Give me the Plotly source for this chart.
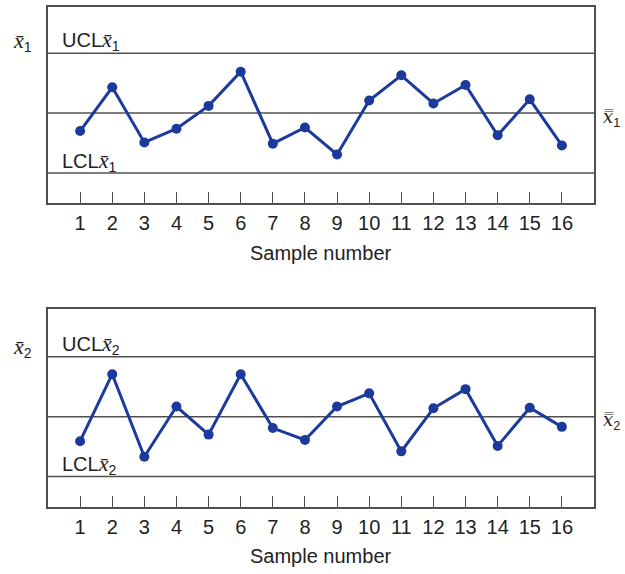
import plotly.graph_objects as go

samples = list(range(1, 17))
xbar1 = [-0.30, 0.43, -0.49, -0.26, 0.12, 0.69, -0.51, -0.24, -0.69, 0.21, 0.63, 0.16, 0.47, -0.37, 0.23, -0.54]
xbar2 = [-0.41, 0.71, -0.67, 0.17, -0.30, 0.71, -0.19, -0.39, 0.17, 0.39, -0.58, 0.14, 0.46, -0.49, 0.15, -0.17]
limits1 = {"UCL": 1.0, "CL": 0.0, "LCL": -1.0}
limits2 = {"UCL": 1.0, "CL": 0.0, "LCL": -1.0}
yrange1 = [-1.5, 1.77]
yrange2 = [-1.51, 1.80]
tick_labels = [str(s) for s in samples]

W, H = 625, 574
def px(v, total):
    return v / total

BLUE = "#1c3a9c"
GRAY = "#505050"
SANS = "Liberation Sans, Arial, sans-serif"
SERIF = "Liberation Serif, Times New Roman, serif"
SERIF2 = "DejaVu Serif, serif"
FS = 20

fig = go.Figure()
fig.add_trace(go.Scatter(x=samples, y=xbar1, mode="lines+markers",
                         line=dict(color=BLUE, width=3), marker=dict(color=BLUE, size=10),
                         xaxis="x", yaxis="y", showlegend=False))
fig.add_trace(go.Scatter(x=samples, y=xbar2, mode="lines+markers",
                         line=dict(color=BLUE, width=3), marker=dict(color=BLUE, size=10),
                         xaxis="x2", yaxis="y2", showlegend=False))

axis_common = dict(showline=True, linecolor=GRAY, linewidth=1.5, mirror=True,
                   showgrid=False, zeroline=False)
xdom = [px(48, W), px(594, W)]
xaxis_common = dict(range=[0, 17], tickvals=samples, ticktext=tick_labels,
                    ticks="inside", ticklen=11, tickwidth=1.2, tickcolor=GRAY,
                    ticklabelstandoff=1,
                    tickfont=dict(family=SANS, size=FS, color="#222"))
fig.update_layout(
    width=W, height=H, margin=dict(l=0, r=0, t=0, b=0),
    paper_bgcolor="white", plot_bgcolor="white",
    xaxis=dict(domain=xdom, anchor="y", **xaxis_common, **axis_common),
    yaxis=dict(domain=[1 - px(203, H), 1 - px(7, H)], range=yrange1, showticklabels=False,
               ticks="", anchor="x", **axis_common),
    xaxis2=dict(domain=xdom, anchor="y2", **xaxis_common, **axis_common),
    yaxis2=dict(domain=[1 - px(507, H), 1 - px(309, H)], range=yrange2, showticklabels=False,
                ticks="", anchor="x2", **axis_common),
)

for lim, xr, yr in [(limits1, "x", "y"), (limits2, "x2", "y2")]:
    for k, v in lim.items():
        fig.add_shape(type="line", xref=f"{xr} domain", yref=yr, x0=0, x1=1, y0=v, y1=v,
                      line=dict(color=GRAY, width=1.5), layer="below")

def ann(x, y, text, xanchor="left", size=FS, family=SANS):
    fig.add_annotation(x=px(x, W), y=1 - px(y, H), xref="paper", yref="paper", text=text,
                       showarrow=False, xanchor=xanchor, yanchor="middle",
                       font=dict(family=family, size=size, color="#222"))

def xb(n):
    return f"<span style='font-family:{SERIF};font-size:22px'><i>x̄</i></span><sub>{n}</sub>"
def xbb(n):
    return f"<span style='font-family:{SERIF2}'><i>x̿</i></span><sub>{n}</sub>"

# top panel labels
ann(11, 42, xb(1))
ann(60, 41, "UCL" + xb(1))
ann(60, 161, "LCL" + xb(1))
ann(601, 118, xbb(1), size=18)
ann(321, 253, "Sample number", xanchor="center")
# bottom panel labels
ann(11, 347, xb(2))
ann(60, 345, "UCL" + xb(2))
ann(60, 464, "LCL" + xb(2))
ann(601, 421, xbb(2), size=18)
ann(321, 556, "Sample number", xanchor="center")

fig.write_html("out.html", config={"displayModeBar": False},
               post_script="document.body.style.margin='0';")
